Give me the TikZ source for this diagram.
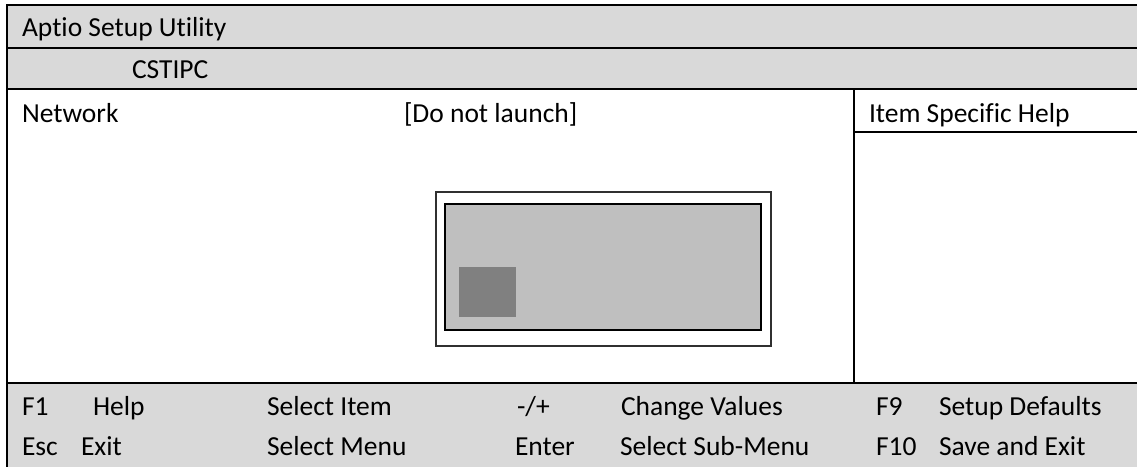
\documentclass[tikz,border=0pt]{standalone}
\usepackage{fontspec}
\setmainfont[RawFeature=-liga]{Carlito}
\definecolor{bargray}{HTML}{D9D9D9}
\definecolor{dlggray}{HTML}{BFBFBF}
\definecolor{darkgray}{HTML}{808080}
\definecolor{outergray}{HTML}{303030}
\tikzset{
  rule/.style={draw=black, line width=2pt},
  lbl/.style={anchor=base west, inner sep=0pt, outer sep=0pt, font=\fontsize{27.5}{33}\selectfont},
}
\begin{document}
\begin{tikzpicture}[x=1pt,y=-1pt]
\useasboundingbox (0,0) rectangle (1137,467);
% bars
\fill[bargray] (7,5) rectangle (1137,89);
\fill[bargray] (7,383) rectangle (1137,467);
% rules
\draw[rule] (1137,5) -- (7,5) -- (7,467);
\draw[rule] (7,48) -- (1137,48);
\draw[rule] (7,89) -- (1137,89);
\draw[rule] (7,383) -- (1137,383);
\draw[rule] (854,89) -- (854,383);
\draw[rule] (854,132) -- (1137,132);
% dialog
\draw[draw=outergray, line width=2pt, fill=white] (436,192) rectangle (771,346);
\draw[draw=black, line width=2.2pt, fill=dlggray] (445,204) rectangle (761,330);
\fill[darkgray] (459,267) rectangle (516,317);
% texts
\node[lbl] (title) at (22,36) {Aptio Setup Utility};
\node[lbl] (tab) at (132,78) {CSTIPC};
\node[lbl] (net) at (22,122) {Network};
\node[lbl] (netval) at (404,122) {[Do not launch]};
\node[lbl] (help) at (869,122) {Item Specific Help};
\node[lbl] (f1) at (22,415) {F1};
\node[lbl] (f1t) at (93,415) {Help};
\node[lbl] (esc) at (22,455) {Esc};
\node[lbl] (esct) at (81,455) {Exit};
\node[lbl] (selitem) at (267,415) {Select Item};
\node[lbl] (selmenu) at (267,455) {Select Menu};
\node[lbl] (pm) at (517,415) {-/+};
\node[lbl] (enter) at (515,455) {Enter};
\node[lbl] (chg) at (621,415) {Change Values};
\node[lbl] (sub) at (620,455) {Select Sub-Menu};
\node[lbl] (f9) at (876,415) {F9};
\node[lbl] (f10) at (876,455) {F10};
\node[lbl] (def) at (939,415) {Setup Defaults};
\node[lbl] (save) at (939,455) {Save and Exit};
\end{tikzpicture}
\end{document}
